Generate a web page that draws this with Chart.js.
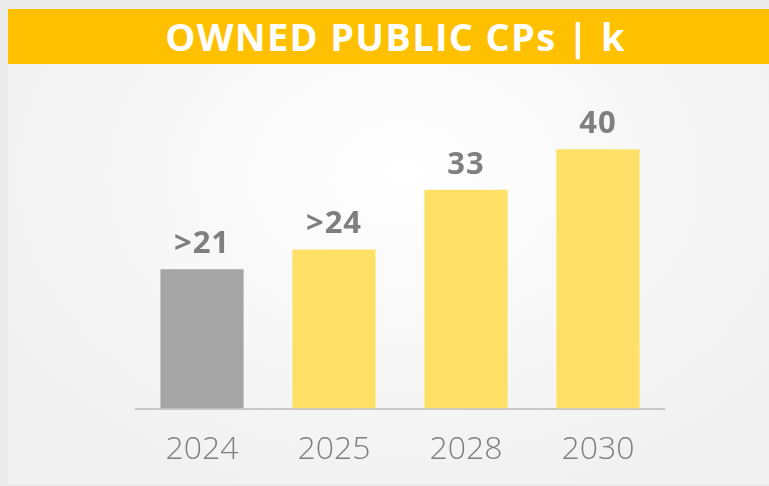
<!DOCTYPE html>
<html>
<head>
<meta charset="utf-8">
<script src="https://cdn.jsdelivr.net/npm/chart.js@4"></script>
<style>
  html, body { margin: 0; padding: 0; width: 769px; height: 486px; overflow: hidden; background: #ebebeb; }
  #panel { position: absolute; left: 8px; top: 9px; width: 761px; height: 475px;
    background: radial-gradient(ellipse 60% 70% at 52% 35%, #ffffff 0%, #f7f7f7 55%, #f1f1f1 100%); }
  #title { position: absolute; left: 8px; top: 9px; width: 761px; height: 55px; background: #FFC000;
    color: #fff; font-family: "Open Sans", sans-serif; font-weight: 700; font-size: 38px;
    line-height: 55px; text-align: center; letter-spacing: 1.3px; text-indent: 14px; }
  #wrap { position: absolute; left: 0; top: 0; width: 769px; height: 491px; }
</style>
</head>
<body>
<div id="panel"></div>
<div id="title">OWNED PUBLIC CPs | k</div>
<div id="wrap"><canvas id="c" width="769" height="491"></canvas></div>
<script>
const categories = ['2024', '2025', '2028', '2030'];
const values = [21, 24, 33, 39.1];
const valueLabels = ['>21', '>24', '33', '40'];
const barColors = ['#A5A5A5', '#FFE066', '#FFE066', '#FFE066'];

const labelPlugin = {
  id: 'barLabels',
  afterDatasetsDraw(chart) {
    const ctx = chart.ctx;
    const meta = chart.getDatasetMeta(0);
    ctx.save();
    ctx.font = 'bold 31px "Open Sans", sans-serif';
    ctx.fillStyle = '#7F7F7F';
    ctx.textAlign = 'center';
    ctx.textBaseline = 'alphabetic';
    if ('letterSpacing' in ctx) ctx.letterSpacing = '1px';
    meta.data.forEach((bar, i) => {
      ctx.fillText(valueLabels[i], bar.x, bar.y - 16);
    });
    ctx.restore();
  }
};

new Chart(document.getElementById('c'), {
  type: 'bar',
  data: {
    labels: categories,
    datasets: [{
      data: values,
      backgroundColor: barColors,
      borderWidth: 0,
      categoryPercentage: 1,
      barPercentage: 0.63
    }]
  },
  options: {
    responsive: false,
    animation: false,
    layout: { padding: { left: 136, right: 105, top: 77, bottom: 0 } },
    plugins: { legend: { display: false }, tooltip: { enabled: false }, title: { display: false } },
    scales: {
      x: {
        grid: { display: false, drawTicks: false },
        border: { display: true, color: '#C8C8C8', width: 2 },
        ticks: { color: '#808080', font: { family: '"Open Sans", sans-serif', size: 32, weight: 300 }, padding: 22 }
      },
      y: { display: false, min: 0, max: 50 }
    }
  },
  plugins: [labelPlugin]
});
</script>
</body>
</html>
